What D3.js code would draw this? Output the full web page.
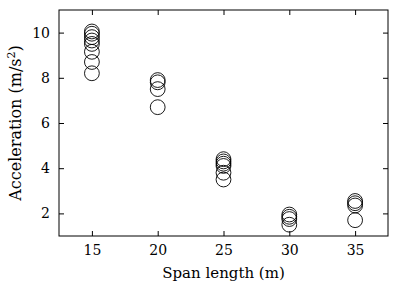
<!DOCTYPE html>
<html>
<head>
<meta charset="utf-8">
<script src="https://cdn.jsdelivr.net/npm/d3@7"></script>
<style>
  body { margin: 0; background: #fff; }
</style>
</head>
<body>
<script>
const spans = [15, 20, 25, 30, 35];
const accel15 = [10.05, 9.95, 9.8, 9.65, 9.5, 9.15, 8.7, 8.2];
const accel20 = [7.9, 7.8, 7.5, 6.7];
const accel25 = [4.4, 4.3, 4.2, 4.1, 3.8, 3.5];
const accel30 = [1.95, 1.85, 1.75, 1.5];
const accel35 = [2.55, 2.45, 2.35, 1.7];
const yTicks = [2, 4, 6, 8, 10];

const width = 398, height = 293;
const plotL = 59, plotR = 388, plotT = 10, plotB = 236;
const serif = "DejaVu Serif";

const groups = [accel15, accel20, accel25, accel30, accel35];
const theData = [];
groups.forEach(function (g, i) {
    g.forEach(function (v) { theData.push({x: spans[i], y: v}); });
});

function createScatter() {
    let svg = d3.select("body")
        .append("svg")
        .attr("width", width)
        .attr("height", height)
        .attr("font-family", serif);

    let x = d3.scaleLinear().domain([12.5, 37.5]).range([plotL, plotR]);
    let y = d3.scaleLinear().domain([1, 11]).range([plotB, plotT]);

    let xAxis = d3.axisBottom(x).tickValues(spans).tickSize(-5).tickPadding(9);
    let yAxis = d3.axisLeft(y).tickValues(yTicks).tickSize(-5).tickPadding(9);

    svg.append("g")
        .attr("class", "x axis")
        .attr("transform", "translate(0," + plotB + ")")
        .call(xAxis);
    svg.append("g")
        .attr("class", "y axis")
        .attr("transform", "translate(" + plotL + ",0)")
        .call(yAxis);

    // inward ticks on the top and right edges too
    svg.append("g")
        .attr("transform", "translate(0," + plotT + ")")
        .call(d3.axisTop(x).tickValues(spans).tickSize(-5).tickFormat(""));
    svg.append("g")
        .attr("transform", "translate(" + plotR + ",0)")
        .call(d3.axisRight(y).tickValues(yTicks).tickSize(-5).tickFormat(""));

    svg.selectAll("g").attr("font-family", serif);
    svg.selectAll(".domain").remove();
    svg.selectAll(".tick line").attr("stroke", "#000").attr("stroke-width", 1);
    svg.selectAll(".tick text")
        .attr("font-size", 14)
        .attr("fill", "#000");

    svg.append("rect")
        .attr("x", plotL)
        .attr("y", plotT)
        .attr("width", plotR - plotL)
        .attr("height", plotB - plotT)
        .attr("fill", "none")
        .attr("stroke", "#000")
        .attr("stroke-width", 1);

    svg.selectAll(".pt")
        .data(theData)
        .enter()
        .append("circle")
        .attr("class", "pt")
        .attr("cx", function (d) { return x(d.x); })
        .attr("cy", function (d) { return y(d.y); })
        .attr("r", 7.4)
        .attr("fill", "none")
        .attr("stroke", "#000")
        .attr("stroke-width", 0.9);

    svg.append("text")
        .attr("text-anchor", "middle")
        .attr("x", (plotL + plotR) / 2)
        .attr("y", 278)
        .attr("font-size", 15)
        .text("Span length (m)");

    let yl = svg.append("text")
        .attr("text-anchor", "middle")
        .attr("transform", "translate(21," + ((plotT + plotB) / 2) + ")rotate(-90)")
        .attr("font-size", 16);
    yl.append("tspan").text("Acceleration (m/s");
    yl.append("tspan").attr("dy", -6).attr("font-size", 11).text("2");
    yl.append("tspan").attr("dy", 6).text(")");
}

createScatter();
</script>
</body>
</html>
